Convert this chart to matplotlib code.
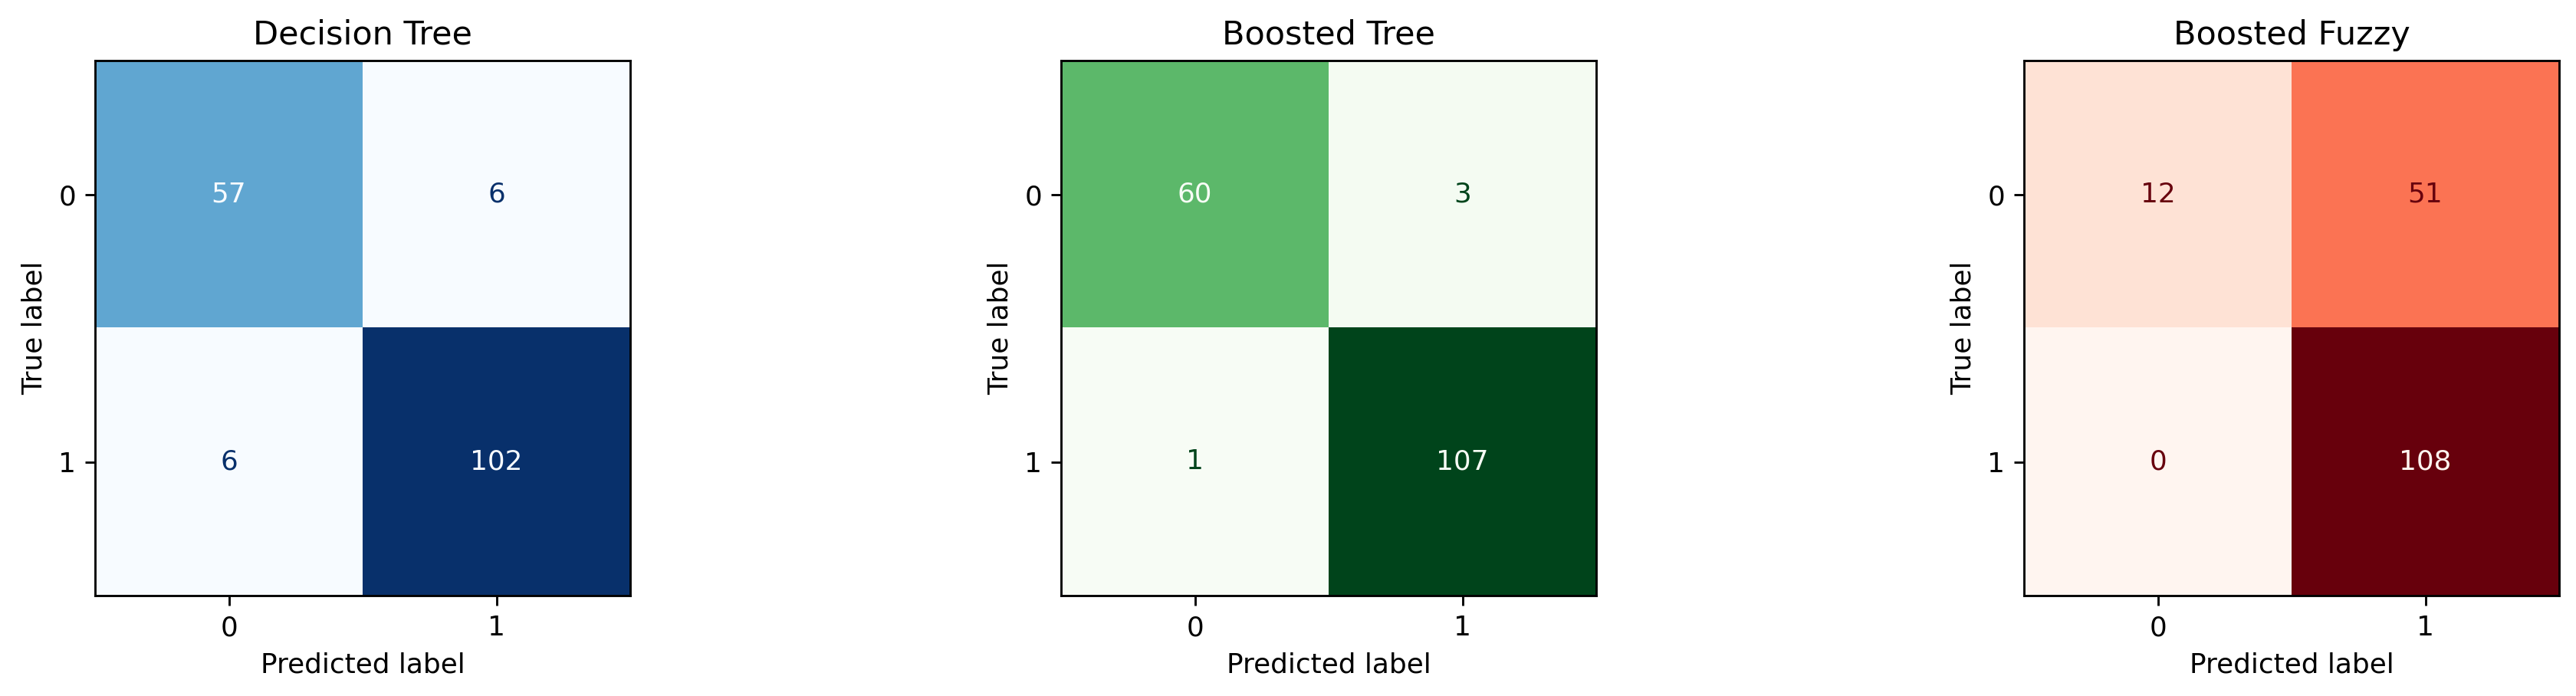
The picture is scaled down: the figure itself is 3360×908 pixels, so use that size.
import numpy as np
import matplotlib
matplotlib.use("Agg")
import matplotlib.pyplot as plt

titles = ["Decision Tree", "Boosted Tree", "Boosted Fuzzy"]
cmaps = ["Blues", "Greens", "Reds"]
class_labels = ["0", "1"]
cm_decision_tree = [[57, 6], [6, 102]]
cm_boosted_tree = [[60, 3], [1, 107]]
cm_boosted_fuzzy = [[12, 51], [0, 108]]
matrices = [cm_decision_tree, cm_boosted_tree, cm_boosted_fuzzy]

W, H = 3360, 908
dpi = 258
fig = plt.figure(figsize=(W / dpi, H / dpi), dpi=dpi)

lefts = [124, 1384, 2640]
bottom_px = 777
size_px = 698

for left, title, cmap_name, cm in zip(lefts, titles, cmaps, matrices):
    ax = fig.add_axes([left / W, (H - bottom_px) / H, size_px / W, size_px / H])
    cm = np.array(cm)
    cmap = plt.get_cmap(cmap_name)
    ax.imshow(cm, interpolation="nearest", cmap=cmap, aspect="auto")
    cmap_min, cmap_max = cmap(0.0), cmap(1.0)
    thresh = (cm.max() + cm.min()) / 2.0
    n = cm.shape[0]
    for i in range(n):
        for j in range(n):
            color = cmap_max if cm[i, j] < thresh else cmap_min
            ax.text(j, i, format(cm[i, j], "d"), ha="center", va="center", color=color)
    ax.set_xticks(np.arange(n))
    ax.set_yticks(np.arange(n))
    ax.set_xticklabels(class_labels)
    ax.set_yticklabels(class_labels)
    ax.set_xlabel("Predicted label")
    ax.set_ylabel("True label")
    ax.set_ylim((n - 0.5, -0.5))
    ax.set_title(title)

fig.savefig("out.png", dpi=dpi)
